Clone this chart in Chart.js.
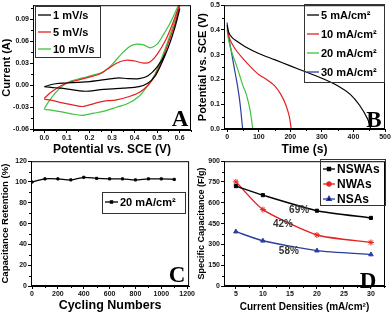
<!DOCTYPE html>
<html>
<head>
<meta charset="utf-8">
<script src="https://cdn.jsdelivr.net/npm/chart.js@4.4.0/dist/chart.umd.min.js"></script>
<style>
    body { margin: 0; background: #fff; }
    #wrap { position: relative; width: 392px; height: 313px; overflow: hidden; }
    canvas { position: absolute; }
</style>
</head>
<body>
<div id="wrap">
    <canvas id="cv_chart" width="196" height="157" style="left:0;top:0"></canvas>
    <canvas id="gcd_chart" width="196" height="157" style="left:196px;top:0"></canvas>
    <canvas id="cycle_chart" width="196" height="157" style="left:0;top:156px"></canvas>
    <canvas id="rate_chart" width="196" height="157" style="left:196px;top:156px"></canvas>
</div>
<script>
// --- A: cyclic voltammetry, [potential V, current A], forward then reverse sweep
var cv_1 = [[0.0,-0.002],[0.02,0.0],[0.05,0.002],[0.1,0.003],[0.15,0.004],[0.2,0.005],[0.25,0.007],[0.3,0.009],[0.33,0.010],[0.37,0.009],[0.42,0.009],[0.46,0.013],[0.5,0.025],[0.54,0.045],[0.57,0.07],[0.6,0.104],
            [0.58,0.08],[0.55,0.052],[0.52,0.03],[0.49,0.012],[0.46,0.003],[0.42,-0.002],[0.35,-0.004],[0.3,-0.005],[0.25,-0.006],[0.2,-0.008],[0.17,-0.008],[0.12,-0.006],[0.07,-0.004],[0.03,-0.003],[0.0,-0.002]];
var cv_5 = [[0.0,-0.018],[0.02,-0.012],[0.05,-0.005],[0.1,0.003],[0.15,0.007],[0.2,0.011],[0.25,0.016],[0.28,0.022],[0.32,0.030],[0.36,0.034],[0.4,0.033],[0.44,0.030],[0.47,0.032],[0.5,0.042],[0.54,0.063],[0.57,0.085],[0.6,0.11],
            [0.58,0.085],[0.55,0.058],[0.52,0.033],[0.49,0.013],[0.46,0.0],[0.42,-0.01],[0.38,-0.015],[0.32,-0.02],[0.26,-0.022],[0.22,-0.025],[0.17,-0.029],[0.13,-0.027],[0.08,-0.024],[0.04,-0.021],[0.0,-0.019]];
var cv_10 = [[0.0,-0.032],[0.02,-0.022],[0.05,-0.01],[0.08,-0.001],[0.12,0.006],[0.17,0.01],[0.22,0.014],[0.26,0.018],[0.3,0.028],[0.34,0.042],[0.38,0.053],[0.41,0.056],[0.44,0.055],[0.47,0.051],[0.5,0.056],[0.53,0.07],[0.56,0.086],[0.6,0.112],
             [0.58,0.09],[0.55,0.062],[0.52,0.037],[0.49,0.015],[0.46,0.0],[0.42,-0.015],[0.37,-0.025],[0.32,-0.03],[0.27,-0.035],[0.22,-0.038],[0.17,-0.041],[0.12,-0.039],[0.07,-0.036],[0.03,-0.034],[0.0,-0.033]];

// --- B: galvanostatic discharge, time (s) and potential (V)
var t_5 = [0,5,15,30,60,100,150,200,250,300,350,390,420,445,455];
var v_5 = [0.42,0.39,0.37,0.355,0.33,0.305,0.28,0.255,0.23,0.205,0.175,0.14,0.095,0.04,0.0];
var t_10 = [0,5,15,30,50,75,100,125,150,170,185,197,203];
var v_10 = [0.41,0.375,0.345,0.315,0.285,0.25,0.22,0.2,0.175,0.14,0.1,0.05,0.0];
var t_20 = [0,3,10,20,30,40,50,58,65,72,77,81];
var v_20 = [0.40,0.37,0.33,0.29,0.255,0.215,0.175,0.15,0.12,0.08,0.04,0.0];
var t_30 = [0,2,8,15,22,30,37,42,46,49];
var v_30 = [0.43,0.40,0.35,0.30,0.25,0.195,0.14,0.09,0.04,0.0];

// --- C: cycling stability
var cycles = [0,100,200,300,400,500,600,700,800,900,1000,1100];
var retention = [100,103,103,102,104.5,103.5,103,103,102,103,103,102.5];

// --- D: rate capability
var densities = [5,10,20,30];
var cap_nswas = [720,655,543,491];
var cap_nwas = [751,551,368,314];
var cap_nsas = [392,326,255,227];

var FONT = '"Liberation Sans", Arial, sans-serif';

function pairs(xs, ys) {
    return xs.map(function (x, i) { return {x: x, y: ys[i]}; });
}

function axis(horizontal, min, max, ticks, digits, title, titleSize, size) {
    return {
        type: 'linear',
        min: min,
        max: max,
        afterBuildTicks: function (s) { s.ticks = ticks.map(function (v) { return {value: v}; }); },
        afterFit: function (s) { if (horizontal) { s.height = size; } else { s.width = size; } },
        grid: {display: true, drawOnChartArea: false, drawTicks: true, tickLength: 3, color: '#000', tickColor: '#000', tickWidth: 1},
        border: {display: true, color: '#000', width: 1},
        ticks: {
            color: '#111', autoSkip: false, maxRotation: 0, padding: 1,
            font: {family: FONT, size: 7, weight: 'bold'},
            callback: function (v) { return Number(v).toFixed(digits); }
        },
        title: {display: true, text: title, color: '#000', padding: 0, font: {family: FONT, size: titleSize, weight: 'bold'}}
    };
}

// frame, minor ticks, in-plot legend, panel letter, notes
function panel(spec) {
    return {
        id: 'panel',
        afterDraw: function (chart) {
            var c = chart.ctx, a = chart.chartArea;
            var xs = chart.scales.x, ys = chart.scales.y;
            c.save();
            c.strokeStyle = '#000';
            c.lineWidth = 1;
            c.strokeRect(a.left + 0.5, a.top + 0.5, a.right - a.left - 1, a.bottom - a.top - 1);
            c.beginPath();
            spec.minorX.forEach(function (v) {
                var p = Math.round(xs.getPixelForValue(v)) + 0.5;
                c.moveTo(p, a.bottom); c.lineTo(p, a.bottom + 2);
            });
            spec.minorY.forEach(function (v) {
                var p = Math.round(ys.getPixelForValue(v)) + 0.5;
                c.moveTo(a.left, p); c.lineTo(a.left - 2, p);
            });
            c.stroke();

            var L = spec.legend;
            c.strokeStyle = '#333';
            c.strokeRect(L.x + 0.5, L.y + 0.5, L.w, L.h);
            c.font = 'bold ' + L.size + 'px ' + FONT;
            c.textBaseline = 'middle';
            c.textAlign = 'left';
            chart.data.datasets.forEach(function (ds, i) {
                var y = L.y + L.first + i * L.step;
                c.strokeStyle = ds.borderColor;
                c.lineWidth = 1.3;
                c.beginPath(); c.moveTo(L.x + 3, y); c.lineTo(L.x + L.line, y); c.stroke();
                if (ds.pointRadius > 0) {
                    Chart.helpers.drawPoint(c, {pointStyle: ds.pointStyle, radius: ds.pointRadius, borderWidth: 1}, (L.x + 3 + L.x + L.line) / 2, y);
                    c.fillStyle = ds.borderColor;
                }
                c.fillStyle = '#000';
                c.fillText(ds.label, L.x + L.line + 2, y + 1);
            });

            c.fillStyle = '#000';
            c.font = 'bold 23px "Liberation Serif", "DejaVu Serif", serif';
            c.textAlign = 'center';
            c.fillText(spec.letter, spec.lx, spec.ly);

            (spec.notes || []).forEach(function (n) {
                c.font = 'bold 10px ' + FONT;
                c.fillStyle = '#333';
                c.fillText(n.text, xs.getPixelForValue(n.x), ys.getPixelForValue(n.y));
            });
            c.restore();
        }
    };
}

function lineSet(label, data, color, style, radius) {
    return {
        label: label, data: data, showLine: true, borderColor: color, backgroundColor: color,
        borderWidth: 1.2, tension: 0.3, pointStyle: style || 'circle', pointRadius: radius || 0,
        pointBorderWidth: 1, pointHoverRadius: 0
    };
}

function build(id, datasets, xAxis, yAxis, pad, spec) {
    return new Chart(document.getElementById(id).getContext('2d'), {
        type: 'scatter',
        data: {datasets: datasets},
        options: {
            responsive: false,
            animation: false,
            layout: {padding: pad},
            plugins: {legend: {display: false}, tooltip: {enabled: false}},
            scales: {x: xAxis, y: yAxis}
        },
        plugins: [panel(spec)]
    });
}

function range(a, b, s) {
    var out = [];
    for (var v = a; v <= b + 1e-9; v += s) { out.push(Math.round(v * 1e6) / 1e6); }
    return out;
}

build('cv_chart', [
        lineSet('1 mV/s', cv_1.map(function (p) { return {x: p[0], y: p[1]}; }), '#000000'),
        lineSet('5 mV/s', cv_5.map(function (p) { return {x: p[0], y: p[1]}; }), '#e62020'),
        lineSet('10 mV/s', cv_10.map(function (p) { return {x: p[0], y: p[1]}; }), '#3fc23f')
    ],
    axis(true, -0.05, 0.65, range(0, 0.6, 0.1), 1, 'Potential vs. SCE (V)', 12, 27),
    axis(false, -0.061, 0.109, range(-0.06, 0.09, 0.03), 2, 'Current (A)', 11, 33),
    {left: 0, right: 5, top: 5, bottom: 0},
    {minorX: range(-0.05, 0.65, 0.1), minorY: range(-0.045, 0.105, 0.03),
     legend: {x: 35, y: 6, w: 65, h: 51, size: 11, first: 9, step: 17, line: 16},
     letter: 'A', lx: 180, ly: 120});

build('gcd_chart', [
        lineSet('5 mA/cm\u00b2', pairs(t_5, v_5), '#000000'),
        lineSet('10 mA/cm\u00b2', pairs(t_10, v_10), '#e62020'),
        lineSet('20 mA/cm\u00b2', pairs(t_20, v_20), '#3fc23f'),
        lineSet('30 mA/cm\u00b2', pairs(t_30, v_30), '#2b3d9e')
    ],
    axis(true, -10, 500, range(0, 500, 100), 0, 'Time (s)', 12, 28),
    axis(false, 0, 0.5, range(0, 0.5, 0.1), 1, 'Potential vs. SCE (V)', 11, 28),
    {left: 0, right: 7, top: 3, bottom: 0},
    {minorX: range(50, 450, 100), minorY: range(0.05, 0.45, 0.1),
     legend: {x: 108, y: 4, w: 80, h: 78, size: 11, first: 11, step: 19, line: 15},
     letter: 'B', lx: 178, ly: 121});

build('cycle_chart', [
        lineSet('20 mA/cm\u00b2', pairs(cycles, retention), '#000000', 'rect', 1.5)
    ],
    axis(true, -8, 1215, range(0, 1200, 200), 0, 'Cycling Numbers', 12.5, 27),
    axis(false, 0, 120, range(0, 120, 20), 0, 'Capacitance Retention (%)', 9.5, 31),
    {left: 0, right: 5, top: 4, bottom: 0},
    {minorX: range(100, 1100, 200), minorY: range(10, 110, 20),
     legend: {x: 102, y: 36, w: 83, h: 21, size: 11, first: 10, step: 17, line: 16},
     letter: 'C', lx: 177, ly: 120});

build('rate_chart', [
        Object.assign(lineSet('NSWAs', pairs(densities, cap_nswas), '#000000', 'rect', 2.2), {tension: 0.2, borderWidth: 1.4}),
        Object.assign(lineSet('NWAs', pairs(densities, cap_nwas), '#e62020', 'star', 3), {tension: 0.2, borderWidth: 1.4}),
        Object.assign(lineSet('NSAs', pairs(densities, cap_nsas), '#2b3d9e', 'triangle', 2.6), {tension: 0.2, borderWidth: 1.4})
    ],
    axis(true, 2.8, 32.6, range(5, 30, 5), 0, 'Current Densities (mA/cm\u00b2)', 10, 27),
    axis(false, 0, 900, range(0, 900, 150), 0, 'Specific Capacitance (F/g)', 9, 28),
    {left: 0, right: 7, top: 3, bottom: 0},
    {minorX: range(7.5, 32.5, 5), minorY: range(75, 825, 150),
     legend: {x: 124, y: 3, w: 65, h: 46, size: 12, first: 10, step: 15, line: 15},
     letter: 'D', lx: 172, ly: 126,
     notes: [{text: '69%', x: 16.7, y: 546}, {text: '42%', x: 13.7, y: 446}, {text: '58%', x: 14.8, y: 248}]});
</script>
</body>
</html>
